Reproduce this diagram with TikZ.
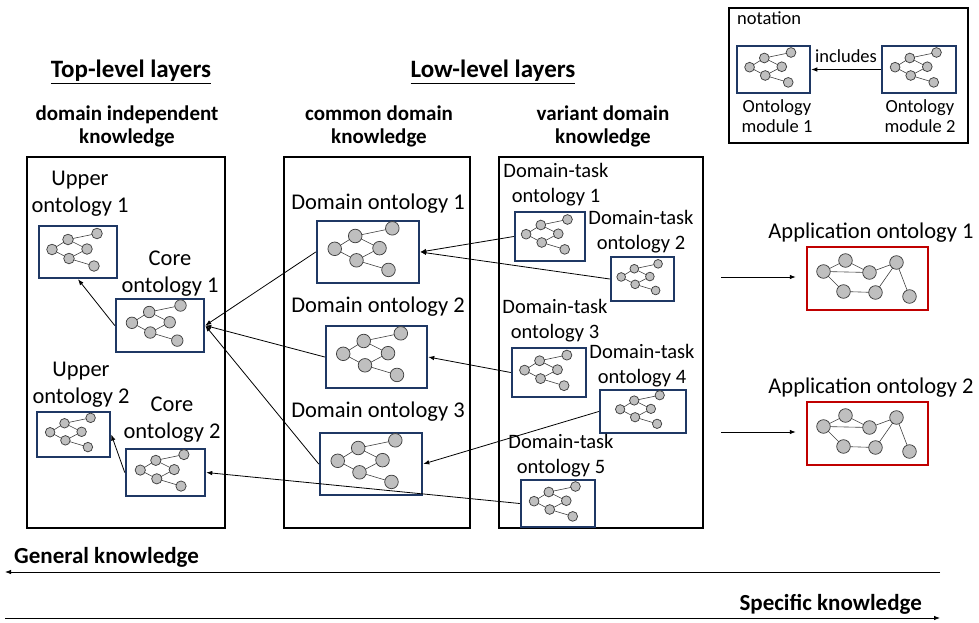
\documentclass[tikz,border=0pt]{standalone}
\usepackage{fontspec}
\setmainfont{Carlito}
\usetikzlibrary{arrows.meta}

\definecolor{navy}{HTML}{1F3864}
\definecolor{appred}{HTML}{C00000}
\definecolor{dotgray}{HTML}{BFBFBF}
\definecolor{edgegray}{HTML}{404040}

% small ontology graph: #1 centre node, #2 scale
\newcommand{\ontograph}[2]{%
\begin{scope}[shift={(#1)}, scale=#2]
\draw[edgegray, line width=0.6pt] (-26,-2.5) -- (-10,-12.5) -- (19,-18.5)
  (-10,-12.5) -- (9,-3) -- (-9,6.5) -- (-26,-2.5)
  (-9,6.5) -- (16,14);
\foreach \x/\y in {-26/-2.5, -10/-12.5, -9/6.5, 9/-3, 19/-18.5, 16/14}
  \filldraw[fill=dotgray, draw=edgegray, line width=0.75pt] (\x,\y) circle[radius=5.3];
\end{scope}}

% application graph: #1 centre node
\newcommand{\appgraph}[1]{%
\begin{scope}[shift={(#1)}]
\draw[edgegray, line width=0.6pt] (-22,-18) -- (-44,-7) -- (2,-6) -- (-22,-18)
  (-44,-7) -- (-24,13) -- (8,14) -- (29,-16) -- (42,18)
  (2,-6) -- (29,-16);
\foreach \x/\y in {-44/-7, -22/-18, 2/-6, 29/-16, -24/13, 8/14, 42/18}
  \filldraw[fill=dotgray, draw=edgegray, line width=0.75pt] (\x,\y) circle[radius=6.8];
\end{scope}}

\begin{document}
\begin{tikzpicture}[x=1pt, y=-1pt,
  layer/.style={draw, line width=2.5pt, inner sep=0pt},
  onto/.style={draw=navy, line width=2.5pt, inner sep=0pt},
  appbox/.style={draw=appred, line width=2.5pt, inner sep=0pt},
  title/.style={font=\bfseries\fontsize{25}{30}\selectfont, inner sep=0pt},
  head/.style={align=center, font=\bfseries\fontsize{21}{23}\selectfont, inner sep=0pt},
  lbl/.style={align=center, font=\fontsize{22.5}{27}\selectfont, inner sep=0pt},
  tasklbl/.style={align=center, font=\fontsize{20.5}{25}\selectfont, inner sep=0pt},
  small/.style={align=center, font=\fontsize{18.5}{19.5}\selectfont, inner sep=0pt},
  link/.style={-{Latex[length=6pt,width=4.5pt]}, line width=0.8pt}]
\useasboundingbox (0,0) rectangle (979,623);

% Layers
\draw (126,342.5) node[layer, minimum width=198, minimum height=371] (toplayer) {};
\draw (377,342.5) node[layer, minimum width=186, minimum height=371] (common) {};
\draw (601,342.5) node[layer, minimum width=204, minimum height=371] (variant) {};
\draw (848.5,75.5) node[layer, minimum width=239, minimum height=135] (legend) {};

% Titles
\draw (131,78) node[title, anchor=base] (toptitle) {\underline{Top-level layers}};
\draw (493,78) node[title, anchor=base] (lowtitle) {\underline{Low-level layers}};
\draw (127,126) node[head] (indephead) {domain independent\\knowledge};
\draw (379,126) node[head] (commonhead) {common domain\\knowledge};
\draw (603,126) node[head] (varianthead) {variant domain\\knowledge};

% Ontology modules
\draw (78,252) node[onto, minimum width=78, minimum height=52] (up1) {};
\draw (160,325.5) node[onto, minimum width=88, minimum height=53] (core1) {};
\draw (73.5,434.5) node[onto, minimum width=73, minimum height=45] (up2) {};
\draw (165.5,472.5) node[onto, minimum width=79, minimum height=47] (core2) {};
\draw (368,252) node[onto, minimum width=102, minimum height=62] (dom1) {};
\draw (376.5,357) node[onto, minimum width=101, minimum height=62] (dom2) {};
\draw (371,464) node[onto, minimum width=102, minimum height=62] (dom3) {};
\draw (550,236.5) node[onto, minimum width=70, minimum height=49] (dt1) {};
\draw (642.5,279) node[onto, minimum width=63, minimum height=44] (dt2) {};
\draw (549,372.5) node[onto, minimum width=74, minimum height=49] (dt3) {};
\draw (643,411.5) node[onto, minimum width=86, minimum height=43] (dt4) {};
\draw (558,503.5) node[onto, minimum width=74, minimum height=47] (dt5) {};
\draw (867.5,278.5) node[appbox, minimum width=121, minimum height=63] (app1) {};
\draw (867.5,433.5) node[appbox, minimum width=121, minimum height=63] (app2) {};
\draw (773.5,69.5) node[onto, minimum width=73, minimum height=47] (mod1) {};
\draw (919,69.5) node[onto, minimum width=74, minimum height=47] (mod2) {};

% Labels
\draw (80,193.5) node[lbl] (up1lbl) {Upper\\ontology 1};
\draw (170,273.5) node[lbl] (core1lbl) {Core\\ontology 1};
\draw (81,385) node[lbl] (up2lbl) {Upper\\ontology 2};
\draw (172,420) node[lbl] (core2lbl) {Core\\ontology 2};
\draw (378,209) node[lbl, anchor=base] (dom1lbl) {Domain ontology 1};
\draw (378,312) node[lbl, anchor=base] (dom2lbl) {Domain ontology 2};
\draw (378,417) node[lbl, anchor=base] (dom3lbl) {Domain ontology 3};
\draw (556,184.5) node[tasklbl] (dt1lbl) {Domain-task\\ontology 1};
\draw (641,231.5) node[tasklbl] (dt2lbl) {Domain-task\\ontology 2};
\draw (555,320.5) node[tasklbl] (dt3lbl) {Domain-task\\ontology 3};
\draw (642,365.5) node[tasklbl] (dt4lbl) {Domain-task\\ontology 4};
\draw (561,455.5) node[tasklbl] (dt5lbl) {Domain-task\\ontology 5};
\draw (871,238) node[lbl, anchor=base] (app1lbl) {Application ontology 1};
\draw (871,393) node[lbl, anchor=base] (app2lbl) {Application ontology 2};
\draw (737,25) node[small, anchor=base west] (notelbl) {notation};
\draw (777,116) node[small] (mod1lbl) {Ontology\\module 1};
\draw (920,116) node[small] (mod2lbl) {Ontology\\module 2};
\draw (14,563) node[title, font=\bfseries\fontsize{23}{27}\selectfont, anchor=base west] (genlbl) {General knowledge};
\draw (922,610) node[title, font=\bfseries\fontsize{23}{27}\selectfont, anchor=base east] (speclbl) {Specific knowledge};

% Graphs
\ontograph{up1}{1}
\ontograph{core1}{1.08}
\ontograph{up2}{0.9}
\ontograph{core2}{0.97}
\ontograph{dom1}{1.28}
\ontograph{dom2}{1.28}
\ontograph{dom3}{1.28}
\ontograph{dt1}{0.92}
\ontograph{dt2}{0.82}
\ontograph{dt3}{0.94}
\ontograph{dt4}{0.88}
\ontograph{dt5}{0.92}
\ontograph{mod1}{0.92}
\ontograph{mod2}{0.92}
\appgraph{app1}
\appgraph{app2}

% Links
\draw[link] (core1.west) -- (up1.south);
\draw[link] (core2.west) -- (up2.east);
\draw[link] (dom1.west) -- (core1.east);
\draw[link] (dom2.west) -- (core1.east);
\draw[link] (dom3.west) -- (core1.east);
\draw[link] (dt1.west) -- (dom1.east);
\draw[link] (dt2.west) -- (dom1.east);
\draw[link] (dt3.west) -- (dom2.east);
\draw[link] (dt4.west) -- (dom3.east);
\draw[link] (dt5.west) -- (core2.east);
\draw[link] (mod2) -- node[small, above=6pt] (inclbl) {includes} (mod1);

\coordinate (in1) at (721,277);
\coordinate (in2) at (721,432);
\draw[link, shorten >=10pt] (in1) -- (in1 -| app1.west);
\draw[link, shorten >=10pt] (in2) -- (in2 -| app2.west);

\coordinate (genR) at (940,572);
\coordinate (genL) at (5,572);
\coordinate (specL) at (5,618);
\coordinate (specR) at (940,618);
\draw[link] (genR) -- (genL);
\draw[link] (specL) -- (specR);

\end{tikzpicture}
\end{document}
